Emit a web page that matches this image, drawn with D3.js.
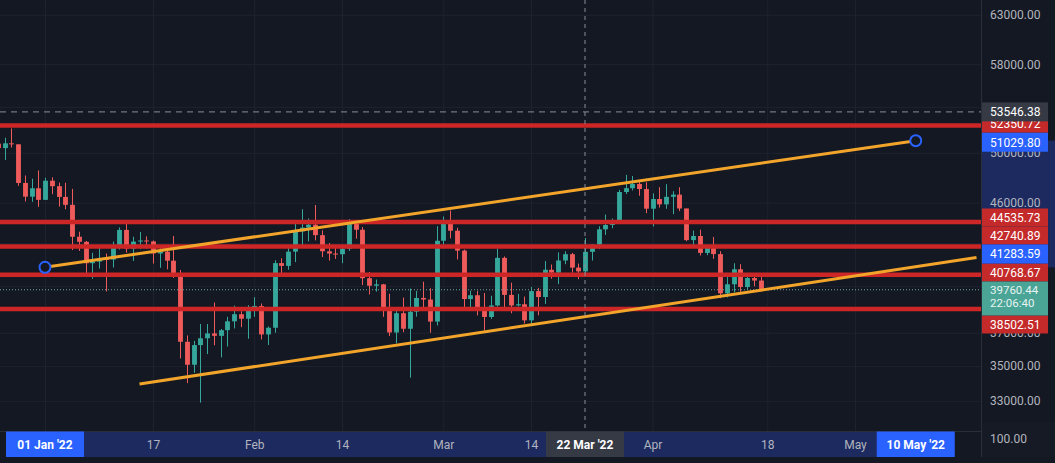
<!DOCTYPE html>
<html>
<head>
<meta charset="utf-8">
<script src="https://d3js.org/d3.v7.min.js"></script>
<style>
  html, body { margin: 0; padding: 0; background: #141823; overflow: hidden; }
  svg { display: block; font-family: Roboto, "Liberation Sans", sans-serif; }
</style>
</head>
<body>
<div id="chart"></div>
<script>
// daily candles: date, open, high, low, close
const candles = [
  ["2021-12-25", 50775, 51156, 50142, 50397],
  ["2021-12-26", 50397, 51280, 49412, 50802],
  ["2021-12-27", 50802, 52088, 50449, 50718],
  ["2021-12-28", 50718, 50718, 47313, 47543],
  ["2021-12-29", 47543, 48139, 46096, 46464],
  ["2021-12-30", 46464, 47879, 46060, 47120],
  ["2021-12-31", 47120, 48548, 45678, 46216],
  ["2022-01-01", 46216, 47954, 46208, 47722],
  ["2022-01-02", 47722, 47990, 46654, 47286],
  ["2022-01-03", 47286, 47570, 45696, 46446],
  ["2022-01-04", 46446, 47557, 45500, 45832],
  ["2022-01-05", 45832, 47070, 42500, 43451],
  ["2022-01-06", 43451, 43816, 42430, 43082],
  ["2022-01-07", 43082, 43145, 40610, 41566],
  ["2022-01-08", 41566, 42300, 40501, 41680],
  ["2022-01-09", 41680, 42786, 41200, 41864],
  ["2022-01-10", 41864, 42248, 39650, 41822],
  ["2022-01-11", 41822, 43100, 41268, 42735],
  ["2022-01-12", 42735, 44135, 42528, 43949],
  ["2022-01-13", 43949, 44500, 42311, 42592],
  ["2022-01-14", 42592, 43448, 41725, 43099],
  ["2022-01-15", 43099, 43800, 42555, 43177],
  ["2022-01-16", 43177, 43478, 42581, 43113],
  ["2022-01-17", 43113, 43180, 41540, 42250],
  ["2022-01-18", 42250, 42691, 41250, 42375],
  ["2022-01-19", 42375, 42576, 41138, 41744],
  ["2022-01-20", 41744, 43505, 40553, 40680],
  ["2022-01-21", 40680, 41100, 35440, 36445],
  ["2022-01-22", 36445, 36835, 34008, 35071],
  ["2022-01-23", 35071, 36500, 34601, 36244],
  ["2022-01-24", 36244, 37550, 32917, 36660],
  ["2022-01-25", 36660, 37545, 35702, 36958],
  ["2022-01-26", 36958, 38919, 36234, 36809],
  ["2022-01-27", 36809, 37234, 35507, 37160],
  ["2022-01-28", 37160, 38000, 36155, 37716],
  ["2022-01-29", 37716, 38720, 37268, 38166],
  ["2022-01-30", 38166, 38359, 37351, 37881],
  ["2022-01-31", 37881, 38744, 36633, 38466],
  ["2022-02-01", 38466, 39265, 38000, 38694],
  ["2022-02-02", 38694, 38855, 36586, 36896],
  ["2022-02-03", 36896, 37387, 36250, 37311],
  ["2022-02-04", 37311, 41772, 37000, 41574],
  ["2022-02-05", 41574, 41913, 40843, 41382],
  ["2022-02-06", 41382, 42656, 41116, 42380],
  ["2022-02-07", 42380, 44500, 41645, 43840],
  ["2022-02-08", 43840, 45492, 42666, 44118],
  ["2022-02-09", 44118, 44798, 43117, 44338],
  ["2022-02-10", 44338, 45821, 43187, 43565],
  ["2022-02-11", 43565, 43920, 42000, 42407],
  ["2022-02-12", 42407, 43000, 41748, 42244],
  ["2022-02-13", 42244, 42760, 41870, 42197],
  ["2022-02-14", 42197, 42876, 41567, 42586],
  ["2022-02-15", 42586, 44751, 42428, 44575],
  ["2022-02-16", 44575, 44582, 43310, 43961],
  ["2022-02-17", 43961, 44164, 40073, 40538],
  ["2022-02-18", 40538, 40959, 39450, 40031],
  ["2022-02-19", 40031, 40444, 39639, 40122],
  ["2022-02-20", 40122, 40150, 38000, 38431],
  ["2022-02-21", 38431, 39494, 36800, 37017],
  ["2022-02-22", 37017, 38429, 36350, 38230],
  ["2022-02-23", 38230, 39249, 37036, 37250],
  ["2022-02-24", 37250, 39843, 34322, 38328],
  ["2022-02-25", 38328, 39683, 38014, 39219],
  ["2022-02-26", 39219, 40300, 38600, 39116],
  ["2022-02-27", 39116, 39855, 37000, 37699],
  ["2022-02-28", 37699, 44225, 37450, 43160],
  ["2022-03-01", 43160, 44949, 42809, 44421],
  ["2022-03-02", 44421, 45400, 43334, 43892],
  ["2022-03-03", 43892, 44102, 41832, 42454],
  ["2022-03-04", 42454, 42527, 38550, 39148],
  ["2022-03-05", 39148, 39704, 38585, 39397],
  ["2022-03-06", 39397, 39693, 38088, 38420],
  ["2022-03-07", 38420, 39547, 37155, 37988],
  ["2022-03-08", 37988, 39362, 37867, 38730],
  ["2022-03-09", 38730, 42594, 38656, 41941],
  ["2022-03-10", 41941, 42039, 38539, 39422],
  ["2022-03-11", 39422, 40236, 38223, 38729],
  ["2022-03-12", 38729, 39486, 38660, 38807],
  ["2022-03-13", 38807, 39310, 37578, 37777],
  ["2022-03-14", 37777, 39947, 37555, 39671],
  ["2022-03-15", 39671, 39887, 38098, 39280],
  ["2022-03-16", 39280, 41718, 38828, 41114],
  ["2022-03-17", 41114, 41478, 40500, 40917],
  ["2022-03-18", 40917, 42325, 40135, 41757],
  ["2022-03-19", 41757, 42400, 41499, 42201],
  ["2022-03-20", 42201, 42296, 40911, 41262],
  ["2022-03-21", 41262, 41544, 40467, 41002],
  ["2022-03-22", 41002, 43361, 40875, 42364],
  ["2022-03-23", 42364, 42893, 41751, 42882],
  ["2022-03-24", 42882, 44220, 42560, 43991],
  ["2022-03-25", 43991, 45094, 43579, 44313],
  ["2022-03-26", 44313, 44792, 44072, 44511],
  ["2022-03-27", 44511, 46999, 44422, 46827],
  ["2022-03-28", 46827, 48190, 46665, 47128],
  ["2022-03-29", 47128, 48096, 46950, 47465],
  ["2022-03-30", 47465, 47700, 46535, 47062],
  ["2022-03-31", 47062, 47600, 45200, 45538],
  ["2022-04-01", 45538, 46720, 44200, 46281],
  ["2022-04-02", 46281, 47213, 45620, 45868],
  ["2022-04-03", 45868, 47444, 45530, 46453],
  ["2022-04-04", 46453, 46890, 45118, 46622],
  ["2022-04-05", 46622, 47200, 45353, 45555],
  ["2022-04-06", 45555, 45555, 43121, 43206],
  ["2022-04-07", 43206, 43900, 42727, 43503],
  ["2022-04-08", 43503, 43970, 42107, 42287],
  ["2022-04-09", 42287, 42800, 42125, 42782],
  ["2022-04-10", 42782, 43434, 41868, 42207],
  ["2022-04-11", 42207, 42414, 39200, 39521],
  ["2022-04-12", 39521, 40699, 39254, 40127],
  ["2022-04-13", 40127, 41561, 39588, 41148],
  ["2022-04-14", 41148, 41500, 39551, 39942],
  ["2022-04-15", 39942, 40870, 39766, 40552],
  ["2022-04-16", 40552, 40709, 39991, 40378],
  ["2022-04-17", 40378, 40620, 39660, 39760.44]
];

// horizontal support / resistance levels
const levels = [52350.72, 44535.73, 42740.89, 40768.67, 38502.51];

// trend lines [date, price]
const upperLine = [["2022-01-01", 41283.59], ["2022-05-10", 51029.80]];
const lowerLine = [["2022-01-15", 33960], ["2022-05-19", 41960]];

const lastPrice = 39760.44;
const countdown = "22:06:40";
const crosshair = ["2022-03-22", 53546.38];

// price grid; labels of the ones hidden behind price tags are left empty
const priceTicks = [63000, 58000, 54000, 50000, 46000, 43000, 40000, 37000, 35000, 33000];
const priceTickShown = [63000, 58000, 50000, 46000, 37000, 35000, 33000];
const timeTickDates = ["2022-01-01", "2022-01-17", "2022-02-01", "2022-02-14", "2022-03-01",
                       "2022-03-14", "2022-04-01", "2022-04-18", "2022-05-01"];
const timeTickLabels = ["", "17", "Feb", "14", "Mar", "14", "Apr", "18", "May"];

const parse = d3.utcParse("%Y-%m-%d");
const fmtPrice = d3.format(".2f");
const fmtDate = d3.utcFormat("%d %b '%y");

const width = 1055, height = 463;
const paneRight = 981, paneBottom = 431, axisBottom = 457;

const colors = {
  bg: "#141823", grid: "#1e2230", border: "#2a2e39", text: "#b2b5be",
  up: "#35a89b", down: "#ef5b5b", level: "#cc2626", levelLabel: "#c42a2a",
  trend: "#f2a52a", blue: "#2962ff", band: "#1c2a60", cross: "#363a45",
  lastLabel: "#4ba597"
};

const x = d3.scaleUtc()
  .domain([parse("2022-01-01"), parse("2022-05-10")])
  .range([45, 915.75]);

// log price scale, visible range of the pane
const y = d3.scaleLog().domain([64575, 31390]).range([0, paneBottom]);

const barW = (x(parse("2022-01-02")) - x(parse("2022-01-01"))) * 0.72;

const data = candles.map(([d, o, h, l, c]) => ({ date: parse(d), o, h, l, c }));

const svg = d3.select("#chart").append("svg")
  .attr("width", width).attr("height", height)
  .attr("viewBox", `0 0 ${width} ${height}`);

svg.append("rect").attr("width", width).attr("height", height).attr("fill", colors.bg);

const pane = svg.append("g");
pane.append("clipPath").attr("id", "clip")
  .append("rect").attr("width", paneRight).attr("height", paneBottom);
const plot = pane.append("g").attr("clip-path", "url(#clip)");

// gridlines
plot.append("g")
  .call(d3.axisLeft(y).tickValues(priceTicks).tickFormat("").tickSize(-paneRight))
  .call(g => g.select(".domain").remove())
  .call(g => g.selectAll("line").attr("stroke", colors.grid));

plot.append("g")
  .attr("transform", `translate(0,${paneBottom})`)
  .call(d3.axisBottom(x).tickValues(timeTickDates.map(parse)).tickFormat("").tickSize(-paneBottom))
  .call(g => g.select(".domain").remove())
  .call(g => g.selectAll("line").attr("stroke", colors.grid));

// candles
const candle = plot.append("g").selectAll("g").data(data).join("g")
  .attr("fill", d => d.c >= d.o ? colors.up : colors.down)
  .attr("stroke", d => d.c >= d.o ? colors.up : colors.down);

candle.append("line")
  .attr("x1", d => Math.round(x(d.date)) + 0.5)
  .attr("x2", d => Math.round(x(d.date)) + 0.5)
  .attr("y1", d => y(d.h)).attr("y2", d => y(d.l))
  .attr("stroke-width", 1);

candle.append("rect")
  .attr("stroke", "none")
  .attr("x", d => Math.round(x(d.date)) + 0.5 - barW / 2)
  .attr("width", barW)
  .attr("y", d => y(Math.max(d.o, d.c)))
  .attr("height", d => Math.max(1, y(Math.min(d.o, d.c)) - y(Math.max(d.o, d.c))));

// last price dotted line
plot.append("line")
  .attr("x1", 0).attr("x2", paneRight)
  .attr("y1", y(lastPrice)).attr("y2", y(lastPrice))
  .attr("stroke", "#6fa79f").attr("stroke-width", 1).attr("stroke-dasharray", "1,2");

// horizontal levels
plot.append("g").selectAll("line").data(levels).join("line")
  .attr("x1", 0).attr("x2", paneRight)
  .attr("y1", d => y(d)).attr("y2", d => y(d))
  .attr("stroke", colors.level).attr("stroke-width", 4.5);

// trend lines
const line = d3.line().x(d => x(parse(d[0]))).y(d => y(d[1]));
plot.append("path").datum(lowerLine).attr("d", line)
  .attr("fill", "none").attr("stroke", colors.trend).attr("stroke-width", 3);
plot.append("path").datum(upperLine).attr("d", line)
  .attr("fill", "none").attr("stroke", colors.trend).attr("stroke-width", 3);
plot.append("g").selectAll("circle").data(upperLine).join("circle")
  .attr("cx", d => x(parse(d[0]))).attr("cy", d => y(d[1])).attr("r", 5.5)
  .attr("fill", colors.bg).attr("stroke", colors.blue).attr("stroke-width", 2);

// crosshair
plot.append("line")
  .attr("x1", x(parse(crosshair[0]))).attr("x2", x(parse(crosshair[0])))
  .attr("y1", 0).attr("y2", paneBottom)
  .attr("stroke", "#8a8d96").attr("stroke-dasharray", "4,4");
plot.append("line")
  .attr("x1", 0).attr("x2", paneRight)
  .attr("y1", y(crosshair[1])).attr("y2", y(crosshair[1]))
  .attr("stroke", "#8a8d96").attr("stroke-dasharray", "6,5");

// borders
svg.append("line").attr("x1", 0).attr("x2", paneRight)
  .attr("y1", paneBottom + 0.5).attr("y2", paneBottom + 0.5).attr("stroke", colors.border);
svg.append("line").attr("x1", paneRight + 0.5).attr("x2", paneRight + 0.5)
  .attr("y1", 0).attr("y2", axisBottom).attr("stroke", colors.border);

// ---- time axis ----
const [sel0, sel1] = upperLine.map(d => x(parse(d[0])));
svg.append("rect").attr("x", sel0).attr("y", paneBottom + 1)
  .attr("width", sel1 - sel0).attr("height", axisBottom - paneBottom - 1)
  .attr("fill", colors.band);

svg.append("g")
  .attr("transform", `translate(0,${paneBottom})`)
  .call(d3.axisBottom(x).tickValues(timeTickDates.map(parse).filter((d, i) => timeTickLabels[i]))
    .tickFormat(d => timeTickLabels[timeTickDates.indexOf(d3.utcFormat("%Y-%m-%d")(d))])
    .tickSize(0).tickPadding(9))
  .call(g => g.select(".domain").remove())
  .call(g => g.selectAll("text").attr("fill", colors.text)
    .attr("font-size", 12).attr("font-family", "Roboto, sans-serif"));

function dateLabel(date, fill) {
  const cx = x(date);
  svg.append("rect").attr("x", cx - 39).attr("y", paneBottom + 0.5)
    .attr("width", 78).attr("height", axisBottom - paneBottom - 0.5).attr("fill", fill);
  svg.append("text").attr("x", cx).attr("y", paneBottom + 17.5)
    .attr("text-anchor", "middle").attr("fill", "#ffffff")
    .attr("font-size", 12).attr("font-weight", 700).text(fmtDate(date));
}
dateLabel(parse(upperLine[0][0]), colors.blue);
dateLabel(parse(upperLine[1][0]), colors.blue);
dateLabel(parse(crosshair[0]), colors.cross);

// ---- price axis ----
svg.append("rect").attr("x", paneRight + 1).attr("y", y(upperLine[1][1]))
  .attr("width", width - paneRight - 1)
  .attr("height", y(upperLine[0][1]) - y(upperLine[1][1]))
  .attr("fill", colors.band);

svg.append("g")
  .attr("transform", `translate(${paneRight},0)`)
  .call(d3.axisRight(y).tickValues(priceTickShown).tickFormat(fmtPrice).tickSize(0).tickPadding(9))
  .call(g => g.select(".domain").remove())
  .call(g => g.selectAll("text").attr("fill", colors.text)
    .attr("font-size", 12).attr("font-family", "Roboto, sans-serif"));

// bottom-right corner (collapsed pane scale)
svg.append("rect").attr("x", paneRight + 1).attr("y", 423)
  .attr("width", width - paneRight - 1).attr("height", axisBottom - 423).attr("fill", "#161a25");
svg.append("text").attr("x", 990).attr("y", 443).attr("fill", colors.text)
  .attr("font-size", 12).text("100.00");

// price labels, stacked so they do not overlap
const labels = [
  ...levels.map(v => ({ v, h: 18, fill: colors.levelLabel, lines: [fmtPrice(v)] })),
  ...upperLine.map(d => ({ v: d[1], h: 19, fill: colors.blue, lines: [fmtPrice(d[1])] })),
  { v: lastPrice, h: 34, fill: colors.lastLabel, lines: [fmtPrice(lastPrice), countdown] }
];
labels.forEach(l => (l.want = y(l.v)));
labels.sort((a, b) => a.want - b.want);

let groups = labels.map(l => ({ items: [l], top: l.want - l.h / 2, size: l.h }));
let merged = true;
while (merged) {
  merged = false;
  for (let i = 0; i < groups.length - 1; i++) {
    const a = groups[i], b = groups[i + 1];
    if (a.top + a.size > b.top) {
      const items = a.items.concat(b.items);
      let off = 0;
      const tops = items.map(it => { const t = it.want - off - it.h / 2; off += it.h; return t; });
      // height-weighted mean keeps the group near its lines
      const top = d3.sum(items, (it, k) => tops[k] * it.h) / off;
      groups.splice(i, 2, { items, top, size: off });
      merged = true;
      break;
    }
  }
}
groups.forEach(g => {
  let t = g.top;
  g.items.forEach(it => { it.top = t; t += it.h; });
});

// draw level labels first, selection labels on top
const order = [colors.levelLabel, colors.lastLabel, colors.blue];
const labelG = svg.append("g");
order.forEach(fill => {
  labels.filter(l => l.fill === fill).forEach(l => {
    labelG.append("rect").attr("x", paneRight + 1).attr("y", l.top)
      .attr("width", 66).attr("height", l.h).attr("fill", l.fill);
    const single = l.lines.length === 1;
    l.lines.forEach((s, i) => {
      labelG.append("text").attr("x", 990)
        .attr("y", single ? l.top + l.h / 2 + 4.3 : l.top + 12.5 + i * 13.5)
        .attr("fill", l.fill === colors.lastLabel ? "#e6f4f1" : "#ffffff")
        .attr("font-size", single ? 12 : 11.5).text(s);
    });
  });
});

// crosshair price label
const cy = y(crosshair[1]);
svg.append("rect").attr("x", paneRight + 1).attr("y", cy - 9.5)
  .attr("width", 66).attr("height", 19).attr("fill", colors.cross);
svg.append("text").attr("x", 990).attr("y", cy + 4.5)
  .attr("fill", "#ffffff").attr("font-size", 12).text(fmtPrice(crosshair[1]));
</script>
</body>
</html>
